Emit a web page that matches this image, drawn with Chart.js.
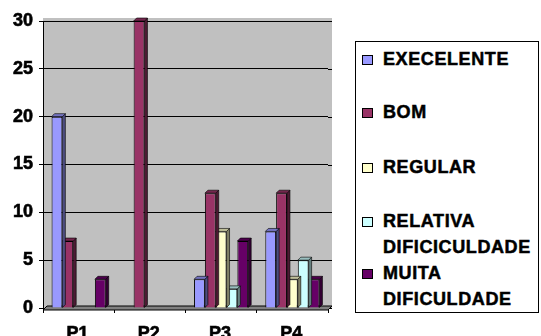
<!DOCTYPE html>
<html>
<head>
<meta charset="utf-8">
<script src="https://cdn.jsdelivr.net/npm/chart.js@4"></script>
<style>
  html, body { margin: 0; padding: 0; background: #fff; }
  #wrap { position: relative; width: 541px; height: 336px; overflow: hidden; }
  #grafico { position: absolute; left: 0; top: 0; }
  #leyenda {
    position: absolute; left: 355px; top: 41px; width: 182px; height: 270px;
    border: 1px solid #000; background: #fff;
    font-family: Arial, "Liberation Sans", sans-serif; font-weight: 700; font-size: 18px; color: #000;
    -webkit-text-stroke: 0.5px #000;
  }
  .item { position: absolute; left: 6px; line-height: 26px; }
  .item .marca {
    position: absolute; left: 0; top: 9px; width: 9px; height: 8px; border: 1px solid #000;
  }
  .item .texto { margin-left: 21px; white-space: nowrap; letter-spacing: 0.6px; }
</style>
</head>
<body>
<div id="wrap">
  <canvas id="grafico" width="541" height="336"></canvas>
  <div id="leyenda"></div>
</div>
<script>
// Datos
const categorias = ['P1', 'P2', 'P3', 'P4'];
const series = ['EXECELENTE', 'BOM', 'REGULAR', 'RELATIVA DIFICICULDADE', 'MUITA DIFICULDADE'];
const lineasLeyenda = [['EXECELENTE'], ['BOM'], ['REGULAR'], ['RELATIVA', 'DIFICICULDADE'], ['MUITA', 'DIFICULDADE']];
const excelente = [20, 0, 3, 8];
const bom = [7, 30, 12, 12];
const regular = [0, 0, 8, 3];
const relativa = [0, 0, 2, 5];
const muita = [3, 0, 7, 3];
const colores = ['#9999FF', '#993366', '#FFFFCC', '#CCFFFF', '#660066'];
const valores = [excelente, bom, regular, relativa, muita];

const fuente = { family: 'Arial, "Liberation Sans", sans-serif', size: 18, weight: 700 };

// Oscurecer un color hex
function sombra(hex, f) {
  const n = parseInt(hex.slice(1), 16);
  const r = Math.round(((n >> 16) & 255) * f);
  const g = Math.round(((n >> 8) & 255) * f);
  const b = Math.round((n & 255) * f);
  return `rgb(${r},${g},${b})`;
}

// Fondo gris, pared del fondo y piso del gráfico
const fondo = {
  id: 'fondo',
  beforeDraw(chart) {
    const { ctx, chartArea: a } = chart;
    ctx.save();
    ctx.fillStyle = '#C0C0C0';
    ctx.fillRect(a.left, a.top - 3, a.right - a.left + 4, a.bottom - a.top + 3);
    ctx.restore();
  },
  beforeDatasetsDraw(chart) {
    const { ctx, chartArea: a } = chart;
    const y = chart.scales.y;
    ctx.save();
    ctx.strokeStyle = '#000';
    ctx.lineWidth = 1;
    y.ticks.forEach(t => {
      const py = Math.round(y.getPixelForValue(t.value)) + 0.5;
      ctx.beginPath();
      ctx.moveTo(a.right, py);
      ctx.lineTo(a.right + 4, py);
      ctx.stroke();
    });
    ctx.beginPath();
    ctx.moveTo(a.left, a.bottom + 2);
    ctx.lineTo(a.right, a.bottom + 2);
    ctx.lineTo(a.right + 4, a.bottom - 2);
    ctx.lineTo(a.left + 4, a.bottom - 2);
    ctx.closePath();
    ctx.fillStyle = '#808080';
    ctx.fill();
    ctx.stroke();
    ctx.restore();
  }
};

// Caras laterales y superiores de las barras (efecto 3D)
const barras3d = {
  id: 'barras3d',
  afterDatasetDraw(chart, args) {
    const { ctx } = chart;
    const meta = args.meta;
    const color = colores[args.index];
    const d = 3;
    ctx.save();
    ctx.strokeStyle = '#000';
    ctx.lineWidth = 0.6;
    meta.data.forEach((bar, i) => {
      if (!chart.data.datasets[args.index].data[i]) return;
      const { x, y, base, width } = bar.getProps(['x', 'y', 'base', 'width'], true);
      const l = x - width / 2, r = x + width / 2;
      ctx.beginPath();
      ctx.moveTo(r, y); ctx.lineTo(r + d, y - d); ctx.lineTo(r + d, base - d); ctx.lineTo(r, base);
      ctx.closePath();
      ctx.fillStyle = sombra(color, 0.5);
      ctx.fill(); ctx.stroke();
      ctx.beginPath();
      ctx.moveTo(l, y); ctx.lineTo(l + d, y - d); ctx.lineTo(r + d, y - d); ctx.lineTo(r, y);
      ctx.closePath();
      ctx.fillStyle = sombra(color, 0.75);
      ctx.fill(); ctx.stroke();
    });
    ctx.restore();
  }
};

new Chart(document.getElementById('grafico'), {
  type: 'bar',
  data: {
    labels: categorias,
    datasets: series.map((s, k) => ({
      label: s,
      data: valores[k],
      backgroundColor: colores[k],
      borderColor: '#000',
      borderWidth: c => (c.raw ? 1 : 0),
      categoryPercentage: 0.76,
      barPercentage: 1
    }))
  },
  options: {
    responsive: false,
    animation: false,
    layout: { padding: { left: 0, right: 213, top: 21, bottom: 0 } },
    plugins: { legend: { display: false }, tooltip: { enabled: false } },
    scales: {
      x: {
        afterFit: s => { s.height = 28; },
        grid: { display: true, drawOnChartArea: false, offset: true, color: '#000', tickLength: 5 },
        border: { color: '#000' },
        ticks: { color: '#000', font: fuente, padding: 10, labelOffset: -1, textStrokeColor: '#000', textStrokeWidth: 0.6 }
      },
      y: {
        min: 0,
        max: 30,
        afterFit: s => { s.width = 43; },
        grid: { color: '#000', tickLength: 4 },
        border: { color: '#000' },
        ticks: { stepSize: 5, color: '#000', font: fuente, padding: 6, textStrokeColor: '#000', textStrokeWidth: 0.6 }
      }
    }
  },
  plugins: [fondo, barras3d]
});

// Leyenda con etiquetas de dos líneas
const tops = [4, 57, 112, 166, 218];
const leyenda = document.getElementById('leyenda');
lineasLeyenda.forEach((lineas, k) => {
  const item = document.createElement('div');
  item.className = 'item';
  item.style.top = tops[k] + 'px';
  item.innerHTML = `<span class="marca" style="background:${colores[k]}"></span>` +
    lineas.map(t => `<div class="texto">${t}</div>`).join('');
  leyenda.appendChild(item);
});
</script>
</body>
</html>
